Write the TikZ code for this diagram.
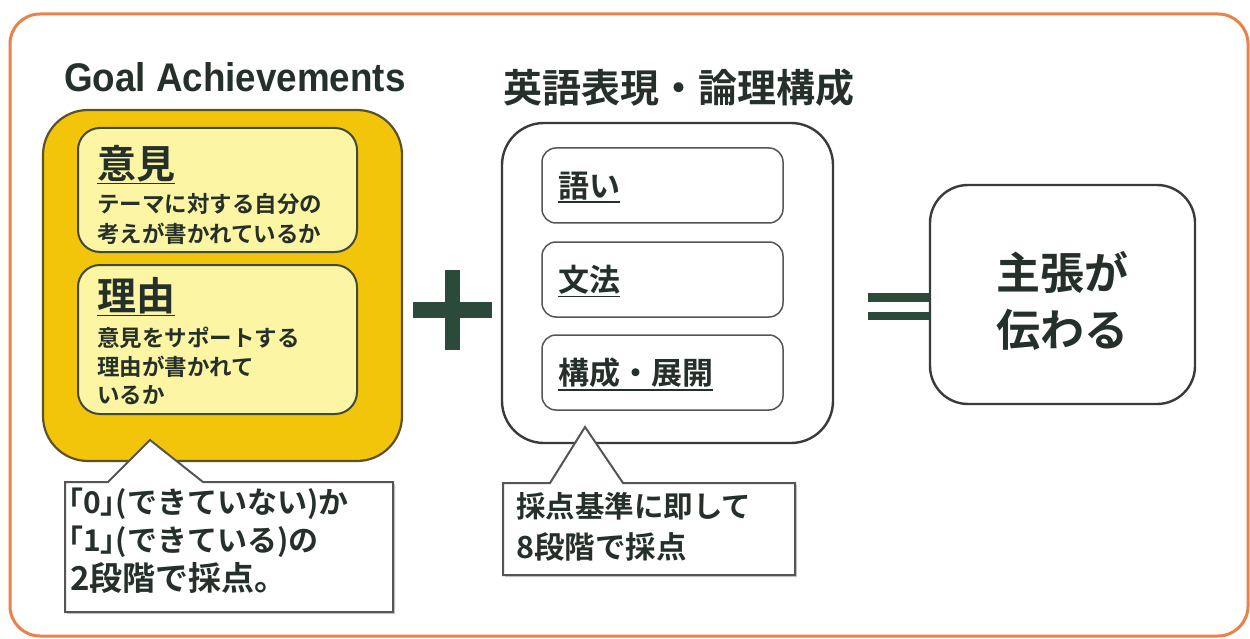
\documentclass[tikz,border=0pt]{standalone}
\usepackage{fontspec}
\setmainfont{Noto Sans CJK JP}[BoldFont={Noto Sans CJK JP Bold}]
\newfontfamily\latin{Liberation Sans}
\usetikzlibrary{calc,shadows}
\definecolor{frameor}{HTML}{E8824A}
\definecolor{txt}{HTML}{26302A}
\definecolor{gold}{HTML}{F3C50A}
\definecolor{goldedge}{HTML}{5C5228}
\definecolor{lightyel}{HTML}{FCF6A4}
\definecolor{inedge}{HTML}{3E4A3C}
\definecolor{boxedge}{HTML}{3A3A3A}
\definecolor{opgreen}{HTML}{2C4A3A}
\definecolor{calledge}{HTML}{555555}
\tikzset{
  every node/.style={inner sep=0pt, outer sep=0pt, text=txt},
  fsz/.style={font=\fontsize{#1}{#1}\selectfont\bfseries},
  goldbox/.style={draw=goldedge, line width=2.2pt, fill=gold, rounded corners=45pt},
  yelbox/.style={draw=inedge, line width=2pt, fill=lightyel, rounded corners=22pt},
  whitebox/.style={draw=boxedge, line width=2.4pt, fill=white, rounded corners=42pt},
  itembox/.style={draw=calledge, line width=1.5pt, fill=white, rounded corners=14pt},
  calloutline/.style={draw=calledge, line width=2pt, fill=white, line join=miter,
     drop shadow={shadow xshift=2pt, shadow yshift=-2pt, opacity=0.3, fill=black!60}},
  ulline/.style={draw=txt, line width=1.6pt},
  opbar/.style={fill=opgreen},
}
\begin{document}
\begin{tikzpicture}[x=1pt,y=-1pt]
\useasboundingbox (0,0) rectangle (1250,639);
% outer frame
\draw[frameor, line width=3pt, rounded corners=30pt] (10,14) rectangle (1248,636);

% headings
\node[anchor=base west, font=\latin\bfseries\fontsize{40}{40}\selectfont] (goal) at (64,92) {\scalebox{0.92}[1]{Goal Achievements}};
\node[anchor=west, fsz=39] (eigo) at (503,88) {英語表現・論理構成};

% left yellow group
\node[goldbox, minimum width=359pt, minimum height=351pt] (gbox) at (222.5,285.5) {};
\node[yelbox, minimum width=279pt, minimum height=124pt] (iken) at (217.5,190) {};
\node[yelbox, minimum width=279pt, minimum height=149pt] (riyu) at (217.5,339.5) {};

\node[anchor=west, fsz=39] (ikenh) at (97,164) {意見};
\draw[ulline] ([yshift=-1pt]ikenh.south west) -- ([yshift=-1pt]ikenh.south east);
\node[anchor=west, fsz=22.5] (iken1) at (97,204) {テーマに対する自分の};
\node[anchor=west, fsz=22.5] (iken2) at (97,234) {考えが書かれているか};

\node[anchor=west, fsz=39] (riyuh) at (97,296) {理由};
\draw[ulline] ([yshift=-1pt]riyuh.south west) -- ([yshift=-1pt]riyuh.south east);
\node[anchor=west, fsz=22.5] (riyu1) at (97,338) {意見をサポートする};
\node[anchor=west, fsz=22.5] (riyu2) at (97,367) {理由が書かれて};
\node[anchor=west, fsz=22.5] (riyu3) at (97,395) {いるか};

% plus
\fill[opbar] (413,302) rectangle (492,318);
\fill[opbar] (445,270) rectangle (460,350);

% middle group
\node[whitebox, minimum width=331pt, minimum height=320pt] (mbox) at (667.5,283) {};
\node[itembox, minimum width=241pt, minimum height=75pt] (m1) at (662.5,185.5) {};
\node[itembox, minimum width=241pt, minimum height=75pt] (m2) at (662.5,279.5) {};
\node[itembox, minimum width=241pt, minimum height=75pt] (m3) at (662.5,372.5) {};
\node[anchor=west, fsz=31] (m1t) at (558,186) {語い};
\node[anchor=west, fsz=31] (m2t) at (558,280) {文法};
\node[anchor=west, fsz=31] (m3t) at (558,373) {構成・展開};
\foreach \n in {m1t,m2t,m3t}{
  \draw[ulline, line width=1.3pt] ([yshift=-2pt]\n.south west) -- ([yshift=-2pt]\n.south east);
}

% equals
\fill[opbar] (868,293) rectangle (932,302);
\fill[opbar] (868,312) rectangle (932,320);

% right box
\node[whitebox, rounded corners=38pt, minimum width=265pt, minimum height=219pt] (rbox) at (1062.5,294.5) {};
\node[fsz=44] (r1) at (1062,272) {主張が};
\node[fsz=44] (r2) at (1062,330) {伝わる};

% callout 1
\node[minimum width=328pt, minimum height=130pt] (c1) at (229,547) {};
\coordinate (t1) at (150,440);
\draw[calloutline] (c1.north west) -- ([xshift=43pt]c1.north west) -- (t1) -- ([xshift=138pt]c1.north west) -- (c1.north east) -- (c1.south east) -- (c1.south west) -- cycle;
\node[anchor=west, fsz=30] (c1a) at (68,504) {｢0｣(できていない)か};
\node[anchor=west, fsz=30] (c1b) at (68,542) {｢1｣(できている)の};
\node[anchor=west, fsz=33] (c1c) at (70,578) {2段階で採点。};

% callout 2
\node[minimum width=292pt, minimum height=92pt] (c2) at (649,529) {};
\coordinate (t2) at (585,427);
\draw[calloutline] (c2.north west) -- ([xshift=47pt]c2.north west) -- (t2) -- ([xshift=120pt]c2.north west) -- (c2.north east) -- (c2.south east) -- (c2.south west) -- cycle;
\node[anchor=west, fsz=29.5] (c2a) at (516,506) {採点基準に即して};
\node[anchor=west, fsz=30.5] (c2b) at (516,547) {8段階で採点};
\end{tikzpicture}
\end{document}
